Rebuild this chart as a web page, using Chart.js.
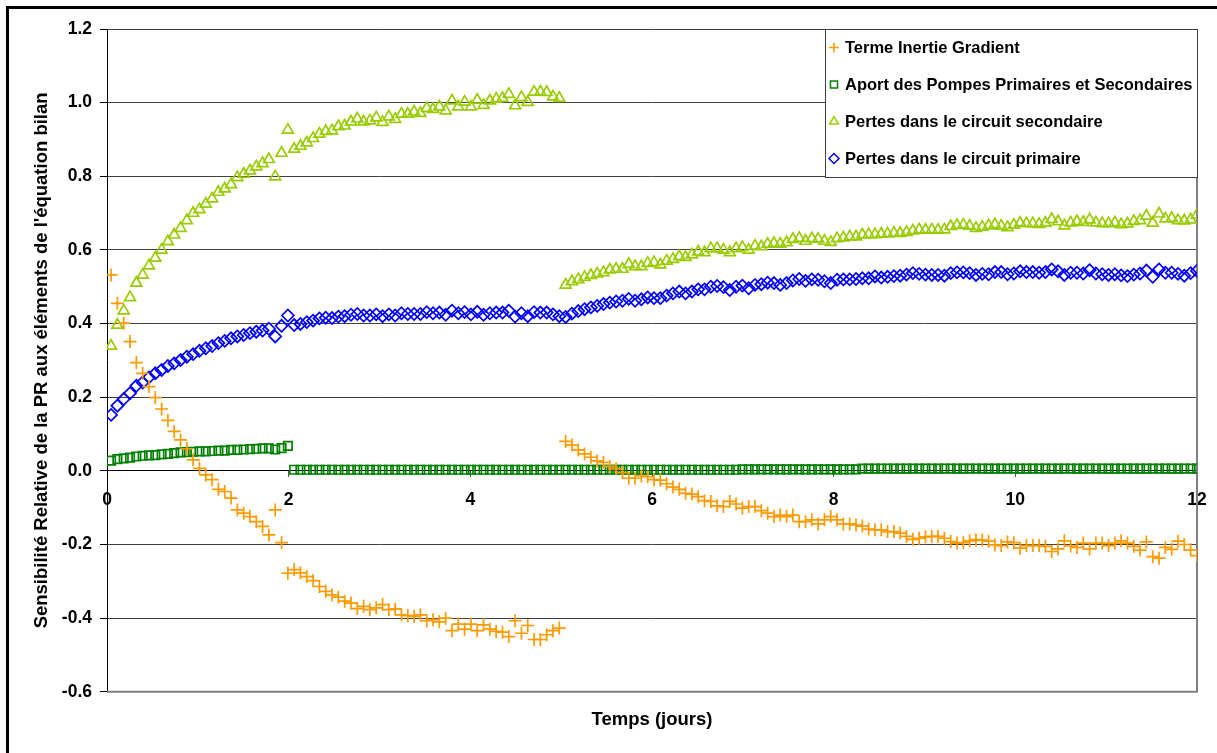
<!DOCTYPE html>
<html lang="fr">
<head>
<meta charset="utf-8">
<title>Sensibilité relative de la PR</title>
<script src="https://cdn.jsdelivr.net/npm/chart.js@4.4.1/dist/chart.umd.min.js"></script>
<style>
  html, body { margin: 0; padding: 0; background: #fff; overflow: hidden; }
  #frame { position: absolute; left: 6px; top: 6px; width: 1400px; height: 1000px; border: 3px solid #000; }
  #wrap { position: absolute; left: 0; top: 0; width: 1217px; height: 753px; }
</style>
</head>
<body>
<div id="frame"></div>
<div id="wrap"><canvas id="chart"></canvas></div>
<script>
// sampling grid of the simulation (days)
const FIRST_T = 0.045;
const STEP_T = 0.0695;

const SERIES_LABELS = [
  'Terme Inertie Gradient',
  'Aport des Pompes Primaires et Secondaires',
  'Pertes dans le circuit secondaire',
  'Pertes dans le circuit primaire',
];

const termeInertie = [
  0.532, 0.455, 0.401, 0.351, 0.294, 0.265, 0.229, 0.199, 0.168, 0.137,
  0.107, 0.084, 0.060, 0.030, 0.007, -0.011, -0.024, -0.050, -0.056, -0.074,
  -0.106, -0.115, -0.124, -0.138, -0.151, -0.174, -0.106, -0.195,
  -0.278, -0.268, -0.277, -0.287, -0.298, -0.314, -0.327, -0.337, -0.343, -0.354,
  -0.359, -0.374, -0.368, -0.377, -0.372, -0.363, -0.377, -0.375, -0.391, -0.393,
  -0.395, -0.391, -0.407, -0.404, -0.410, -0.400, -0.434, -0.416, -0.430, -0.416,
  -0.434, -0.418, -0.430, -0.436, -0.438, -0.450, -0.407, -0.441, -0.420, -0.458,
  -0.458, -0.445, -0.434, -0.427,
  0.080, 0.070, 0.057, 0.046, 0.037, 0.027, 0.023, 0.012, 0.006, -0.005,
  -0.020, -0.020, -0.014, -0.016, -0.024, -0.025, -0.035, -0.044, -0.050, -0.061,
  -0.063, -0.070, -0.081, -0.083, -0.095, -0.097, -0.083, -0.090, -0.101, -0.097,
  -0.097, -0.108, -0.115, -0.124, -0.120, -0.124, -0.120, -0.138, -0.138, -0.133,
  -0.144, -0.133, -0.124, -0.133, -0.144, -0.144, -0.147, -0.150, -0.158, -0.160,
  -0.160,
  -0.165, -0.165, -0.169, -0.178, -0.186, -0.183, -0.179, -0.178, -0.178, -0.183,
  -0.192, -0.196, -0.195, -0.190, -0.187, -0.188, -0.191, -0.201, -0.203, -0.193,
  -0.195, -0.210, -0.203, -0.203, -0.203, -0.205, -0.219, -0.212, -0.190, -0.204,
  -0.208, -0.196, -0.212, -0.196, -0.196, -0.203, -0.196, -0.190, -0.196, -0.205,
  -0.215, -0.193, -0.233, -0.237, -0.208, -0.213, -0.191, -0.200, -0.215, -0.230,
];

const aportPompes = [
  0.028, 0.032, 0.034, 0.036, 0.039, 0.041, 0.042, 0.043, 0.045, 0.046,
  0.048, 0.050, 0.051, 0.052, 0.053, 0.053, 0.054, 0.055, 0.055, 0.057,
  0.057, 0.058, 0.059, 0.060, 0.061, 0.061, 0.058, 0.062, 0.068,
  0.003, 0.003, 0.003, 0.003, 0.003, 0.003, 0.003, 0.003, 0.003, 0.003,
  0.003, 0.003, 0.003, 0.003, 0.003, 0.003, 0.003, 0.003, 0.003, 0.003,
  0.003, 0.003, 0.003, 0.003, 0.003, 0.003, 0.003, 0.003, 0.003, 0.003,
  0.003, 0.003, 0.003, 0.003, 0.003, 0.003, 0.003, 0.003, 0.003, 0.003,
  0.003, 0.003, 0.003, 0.003, 0.003, 0.003, 0.003, 0.003, 0.003, 0.003,
  0.003, 0.003, 0.003, 0.003, 0.003, 0.003, 0.003, 0.003, 0.003, 0.003,
  0.003, 0.003, 0.003, 0.003, 0.003, 0.003, 0.003, 0.003, 0.003, 0.003,
  0.003,
  0.004, 0.004, 0.004, 0.004, 0.004, 0.004, 0.004, 0.004, 0.004, 0.004,
  0.004, 0.004, 0.004, 0.004, 0.004, 0.004, 0.004, 0.004, 0.004,
  0.006, 0.006, 0.006, 0.006, 0.006, 0.006, 0.006, 0.006, 0.006, 0.006,
  0.006, 0.006, 0.006, 0.006, 0.006, 0.006, 0.006, 0.006, 0.006, 0.006,
  0.006, 0.006, 0.006, 0.006, 0.006, 0.006, 0.006, 0.006, 0.006, 0.006,
  0.006, 0.006, 0.006, 0.006, 0.006, 0.006, 0.006, 0.006, 0.006, 0.006,
  0.006, 0.006, 0.006, 0.006, 0.006, 0.006, 0.006, 0.006, 0.006, 0.006,
  0.006, 0.006, 0.006, 0.006,
];

const pertesSecondaire = [
  0.339, 0.396, 0.435, 0.471, 0.510, 0.532, 0.557, 0.578, 0.600, 0.623,
  0.641, 0.659, 0.680, 0.700, 0.710, 0.725, 0.739, 0.757, 0.766, 0.778,
  0.797, 0.806, 0.815, 0.826, 0.835, 0.846, 0.799, 0.863, 0.926,
  0.874, 0.882, 0.891, 0.903, 0.915, 0.922, 0.924, 0.935, 0.937, 0.948,
  0.956, 0.948, 0.951, 0.959, 0.947, 0.962, 0.955, 0.969, 0.969, 0.975,
  0.971, 0.985, 0.982, 0.989, 0.978, 1.005, 0.989, 1.002, 0.989, 1.007,
  0.993, 1.005, 1.010, 1.012, 1.023, 0.992, 1.014, 1.001, 1.029, 1.029,
  1.028, 1.016, 1.012,
  0.505, 0.514, 0.520, 0.526, 0.531, 0.535, 0.539, 0.546, 0.548, 0.548,
  0.561, 0.555, 0.555, 0.564, 0.566, 0.560, 0.570, 0.575, 0.582, 0.580,
  0.587, 0.595, 0.593, 0.604, 0.604, 0.600, 0.593, 0.604, 0.607, 0.600,
  0.611, 0.609, 0.616, 0.618, 0.616, 0.620, 0.629, 0.632, 0.624, 0.631,
  0.630, 0.624, 0.621, 0.631, 0.633, 0.636, 0.636, 0.641, 0.642, 0.642,
  0.643, 0.644, 0.646, 0.645, 0.648, 0.652, 0.655, 0.654, 0.655, 0.654,
  0.655, 0.664, 0.667, 0.668, 0.665, 0.659, 0.662, 0.666, 0.669, 0.665,
  0.661, 0.668, 0.673, 0.672, 0.672, 0.670, 0.673, 0.683, 0.677, 0.666,
  0.674, 0.677, 0.675, 0.682, 0.674, 0.672, 0.672, 0.674, 0.669, 0.671,
  0.678, 0.680, 0.692, 0.673, 0.698, 0.685, 0.686, 0.680, 0.679, 0.682,
  0.695,
];

const pertesPrimaire = [
  0.152, 0.177, 0.195, 0.211, 0.231, 0.240, 0.254, 0.265, 0.274, 0.285,
  0.292, 0.301, 0.310, 0.317, 0.326, 0.333, 0.339, 0.347, 0.353, 0.360,
  0.365, 0.369, 0.374, 0.378, 0.381, 0.386, 0.365, 0.394, 0.422,
  0.396, 0.399, 0.404, 0.408, 0.414, 0.416, 0.415, 0.419, 0.420, 0.424,
  0.426, 0.422, 0.422, 0.425, 0.420, 0.425, 0.422, 0.428, 0.426, 0.426,
  0.426, 0.431, 0.428, 0.430, 0.424, 0.435, 0.428, 0.431, 0.425, 0.432,
  0.424, 0.428, 0.430, 0.430, 0.435, 0.419, 0.428, 0.420, 0.431, 0.430,
  0.430,
  0.425, 0.420, 0.418, 0.427, 0.434, 0.439, 0.444, 0.448, 0.453, 0.457,
  0.460, 0.462, 0.467, 0.462, 0.466, 0.471, 0.469, 0.469, 0.476, 0.482,
  0.487, 0.482, 0.487, 0.493, 0.493, 0.500, 0.502, 0.499, 0.491, 0.500,
  0.503, 0.496, 0.505, 0.507, 0.511, 0.510, 0.505, 0.510, 0.517, 0.521,
  0.516, 0.520, 0.519, 0.515, 0.510, 0.519, 0.520, 0.520, 0.521, 0.523,
  0.523, 0.528,
  0.525, 0.527, 0.529, 0.530, 0.533, 0.537, 0.535, 0.533, 0.532, 0.532,
  0.530, 0.537, 0.539, 0.539, 0.537, 0.532, 0.535, 0.534, 0.540, 0.540,
  0.534, 0.536, 0.542, 0.540, 0.540, 0.538, 0.540, 0.547, 0.542, 0.532,
  0.538, 0.538, 0.536, 0.545, 0.536, 0.534, 0.532, 0.534, 0.531, 0.529,
  0.533, 0.536, 0.544, 0.527, 0.547, 0.538, 0.538, 0.535, 0.530, 0.537,
  0.543,
];

(function () {
  'use strict';

  const FONT_FAMILY = '"Liberation Sans", Arial, sans-serif';
  const TICK_FONT = { family: FONT_FAMILY, size: 17.5, weight: 'bold' };

  const toPoints = (values) => values.map((v, i) => ({ x: FIRST_T + i * STEP_T, y: v }));

  const STYLES = [
    { color: '#ff9900', pointStyle: 'cross', radius: 6.5 },
    { color: '#008000', pointStyle: 'rect', radius: 6 },
    { color: '#99cc00', pointStyle: 'triangle', radius: 6.3 },
    { color: '#0000ff', pointStyle: 'rectRot', radius: 6 },
  ];
  const SERIES = [termeInertie, aportPompes, pertesSecondaire, pertesPrimaire];

  const datasets = SERIES.map((values, i) => ({
    label: SERIES_LABELS[i],
    data: toPoints(values),
    showLine: false,
    pointStyle: STYLES[i].pointStyle,
    pointRadius: STYLES[i].radius,
    pointBorderColor: STYLES[i].color,
    pointBackgroundColor: 'rgba(0,0,0,0)',
    pointBorderWidth: 1.7,
    borderColor: STYLES[i].color,
  }));

  // grey right/bottom edge of the plot area
  const plotFrame = {
    id: 'plotFrame',
    beforeDatasetsDraw(chart) {
      const { ctx, chartArea: a } = chart;
      ctx.save();
      ctx.strokeStyle = '#808080';
      ctx.lineWidth = 2;
      ctx.beginPath();
      ctx.moveTo(a.left, a.bottom);
      ctx.lineTo(a.right, a.bottom);
      ctx.lineTo(a.right, a.top);
      ctx.stroke();
      ctx.restore();
    },
  };

  // boxed legend in the top right corner of the plot
  const boxLegend = {
    id: 'boxLegend',
    afterDatasetsDraw(chart) {
      const { ctx, chartArea: a } = chart;
      const w = 372, h = 148;
      const left = a.right - w, top = a.top;
      ctx.save();
      ctx.fillStyle = '#fff';
      ctx.fillRect(left, top, w, h);
      ctx.strokeStyle = '#404040';
      ctx.lineWidth = 1;
      ctx.strokeRect(left + 0.5, top + 0.5, w, h);
      ctx.font = 'bold 16.5px ' + FONT_FAMILY;
      ctx.textBaseline = 'middle';
      chart.data.datasets.forEach((ds, i) => {
        const y = top + 18.5 + i * 37;
        ctx.strokeStyle = ds.pointBorderColor;
        ctx.fillStyle = 'rgba(0,0,0,0)';
        ctx.lineWidth = 1.5;
        Chart.helpers.drawPoint(ctx, {
          pointStyle: ds.pointStyle,
          radius: 5,
          borderWidth: 1.5,
          rotation: 0,
        }, left + 9, y);
        ctx.fillStyle = '#000';
        ctx.fillText(ds.label, left + 20, y + 1);
      });
      ctx.restore();
    },
  };

  new Chart(document.getElementById('chart'), {
    type: 'scatter',
    data: { datasets },
    plugins: [plotFrame, boxLegend],
    options: {
      responsive: true,
      maintainAspectRatio: false,
      animation: false,
      devicePixelRatio: 1,
      layout: { autoPadding: false, padding: { left: 7, top: 29, right: 20, bottom: 22 } },
      plugins: {
        legend: { display: false },
        tooltip: { enabled: false },
        title: {
          display: true,
          position: 'bottom',
          fullSize: false,
          text: 'Temps (jours)',
          color: '#000',
          font: { family: FONT_FAMILY, size: 18.5, weight: 'bold' },
          padding: { top: 17, bottom: 0 },
        },
      },
      scales: {
        x: {
          type: 'linear',
          min: 0,
          max: 12,
          position: { y: 0 },
          border: { color: '#000', width: 1 },
          grid: { drawOnChartArea: false, drawTicks: true, tickLength: 6, tickColor: '#555' },
          ticks: {
            stepSize: 2,
            color: '#000',
            font: TICK_FONT,
            padding: 13,
            maxRotation: 0,
            callback: (v) => String(v),
          },
          // labels may overhang the plot edges, as in the original
          afterFit(scale) { scale.paddingLeft = 0; scale.paddingRight = 0; },
        },
        y: {
          min: -0.6,
          max: 1.2,
          border: { color: '#000', width: 1 },
          grid: { color: '#404040', lineWidth: 1, tickLength: 7, tickColor: '#000' },
          ticks: {
            stepSize: 0.2,
            color: '#000',
            font: TICK_FONT,
            padding: 8,
            callback: (v) => v.toFixed(1),
          },
          title: {
            display: true,
            text: "Sensibilité Relative de la PR aux éléments de l'équation bilan",
            color: '#000',
            font: { family: FONT_FAMILY, size: 18.5, weight: 'bold' },
            padding: { top: 24, bottom: 0 },
          },
          afterFit(scale) { scale.width = 100; },
        },
      },
    },
  });
}());
</script>
</body>
</html>
